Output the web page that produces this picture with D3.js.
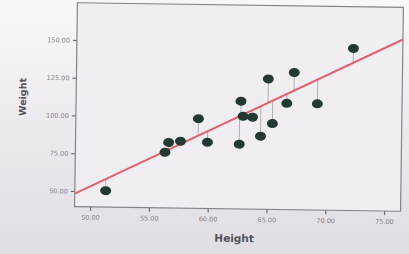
<!DOCTYPE html>
<html>
<head>
<meta charset="utf-8">
<script src="https://cdn.jsdelivr.net/npm/d3@7"></script>
<style>
  html, body { margin: 0; padding: 0; background: #ebe8ed; }
  svg { display: block; }
</style>
</head>
<body>
<svg></svg>
<script>
// data
const heights = [51.3, 56.3, 56.6, 57.6, 59.1, 59.9, 62.6, 62.7, 62.9, 63.7, 64.4, 65.0, 65.4, 66.6, 67.2, 69.2, 72.2];
const weights = [50.5, 76.5, 83, 84, 99, 83.5, 82.5, 111, 101, 100.5, 88, 126, 96.5, 110, 130.5, 110, 147];
// fit line: weight = intercept + slope * height
const fitLine = [-136.2, 3.79];
const xTicks = [50, 55, 60, 65, 70, 75];
const yTicks = [50, 75, 100, 125, 150];

const svgSize = { width: 409, height: 254 };
const plot = { left: 76, top: 5, right: 402, bottom: 209 };

const svg = d3.select("svg")
  .attr("width", svgSize.width)
  .attr("height", svgSize.height);

// photo-like background
const defs = svg.append("defs");
const bg = defs.append("linearGradient").attr("id", "bg")
  .attr("x1", 0).attr("y1", 0).attr("x2", 0).attr("y2", 1);
bg.append("stop").attr("offset", "0%").attr("stop-color", "#f8f7f9");
bg.append("stop").attr("offset", "100%").attr("stop-color", "#e1dde5");
svg.append("rect")
  .attr("width", svgSize.width).attr("height", svgSize.height)
  .attr("fill", "url(#bg)");

// chart group, photo is tilted a little
const cx = (plot.left + plot.right) / 2, cy = (plot.top + plot.bottom) / 2;
const chart = svg.append("g")
  .attr("transform", `rotate(0.8,${cx},${cy})`)
  .style("opacity", 0.995);

const x = d3.scaleLinear().domain([48.68, 76.4]).range([plot.left, plot.right]);
const y = d3.scaleLinear().domain([39.6, 174.7]).range([plot.bottom, plot.top]);

// plot area
chart.append("rect")
  .attr("x", plot.left).attr("y", plot.top)
  .attr("width", plot.right - plot.left).attr("height", plot.bottom - plot.top)
  .attr("fill", "#f1eff3")
  .attr("stroke", "#85838a")
  .attr("stroke-width", 1.2);

// axes
const xAxis = d3.axisBottom(x).tickValues(xTicks).tickSize(4).tickFormat(d3.format(".2f"));
const yAxis = d3.axisLeft(y).tickValues(yTicks).tickSize(4).tickFormat(d3.format(".2f"));

const gx = chart.append("g").attr("transform", `translate(0,${plot.bottom})`).call(xAxis);
const gy = chart.append("g").attr("transform", `translate(${plot.left},0)`).call(yAxis);
[gx, gy].forEach(g => {
  g.select(".domain").remove();
  g.selectAll(".tick line").attr("stroke", "#6e6c73").attr("stroke-width", 1.2);
  g.selectAll(".tick text")
    .attr("fill", "#858389")
    .style("font-family", "DejaVu Sans, sans-serif")
    .style("font-size", "6.5px");
});
gx.selectAll(".tick text").attr("dy", "0.9em");

// axis titles
chart.append("text")
  .attr("x", 236).attr("y", 242)
  .attr("text-anchor", "middle")
  .attr("fill", "#55535a")
  .style("font-family", "DejaVu Sans, sans-serif")
  .style("font-weight", "bold")
  .style("font-size", "10.5px")
  .text("Height");
chart.append("text")
  .attr("transform", "translate(26,100) rotate(-90)")
  .attr("text-anchor", "middle")
  .attr("fill", "#55535a")
  .style("font-family", "DejaVu Sans, sans-serif")
  .style("font-weight", "bold")
  .style("font-size", "9.5px")
  .text("Weight");

const fit = h => fitLine[0] + fitLine[1] * h;
const points = heights.map((h, i) => ({ h: h, w: weights[i] }));

// residual drop lines
chart.selectAll("line.res")
  .data(points)
  .enter().append("line")
  .attr("class", "res")
  .attr("x1", d => x(d.h)).attr("x2", d => x(d.h))
  .attr("y1", d => y(d.w)).attr("y2", d => y(fit(d.h)))
  .attr("stroke", "#b3adb6")
  .attr("stroke-width", 1);

// fit line
const xd = x.domain();
chart.append("line")
  .attr("x1", x(xd[0])).attr("y1", y(fit(xd[0])))
  .attr("x2", x(xd[1])).attr("y2", y(fit(xd[1])))
  .attr("stroke", "#e2626b")
  .attr("stroke-width", 2);

// points
chart.selectAll("ellipse")
  .data(points)
  .enter().append("ellipse")
  .attr("cx", d => x(d.h))
  .attr("cy", d => y(d.w))
  .attr("rx", 5.5).attr("ry", 4.5)
  .attr("fill", "#213a32");
</script>
</body>
</html>
